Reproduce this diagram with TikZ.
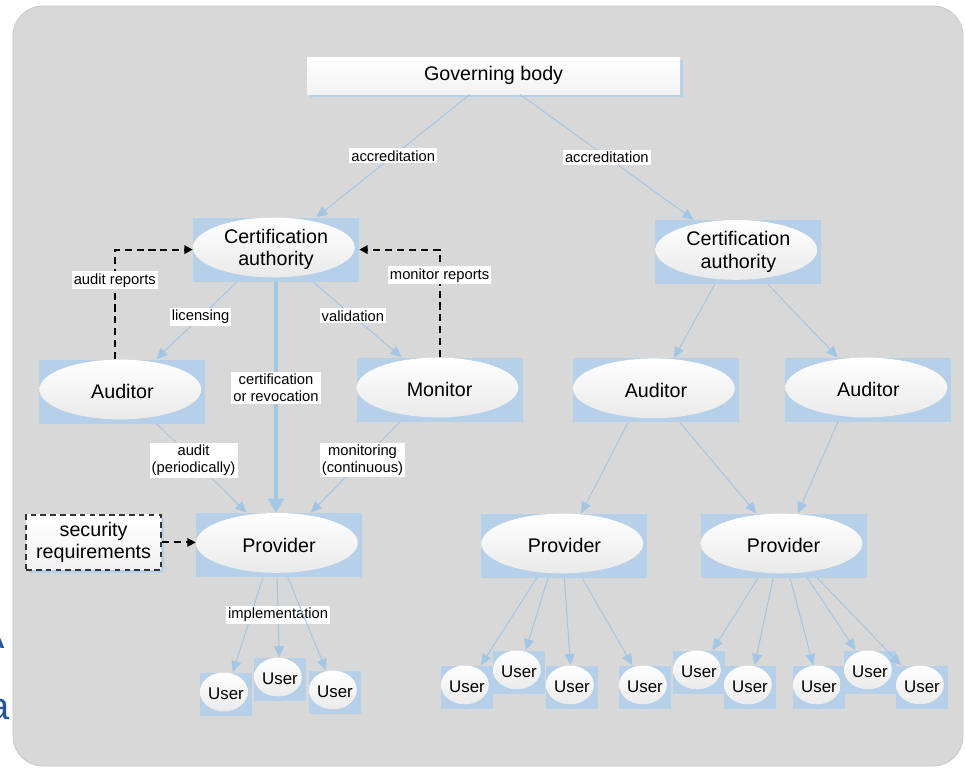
\documentclass[tikz,border=0pt]{standalone}
\usepackage{fontspec}
\setmainfont{Liberation Sans}
\usetikzlibrary{arrows.meta,calc,shadows}
\definecolor{fond}{RGB}{216,216,216}
\definecolor{bleu}{RGB}{181,208,232}
\definecolor{trait}{RGB}{163,198,229}
\definecolor{lettre}{RGB}{35,85,160}
\begin{document}
\begin{tikzpicture}
        \tikzstyle{bulle}=[rectangle,fill=bleu,minimum width=4.15cm,minimum height=1.6cm,inner sep=0pt,align=center,
          font=\fontsize{14}{16}\selectfont,
          path picture={\shade[top color=white,bottom color=black!9]
            let \p1=($(path picture bounding box.north east)-(path picture bounding box.south west)$) in
            ([shift={(-1.5pt,1.5pt)}]path picture bounding box.center) ellipse ({0.5*\x1-1.5pt} and {0.5*\y1-1.5pt});}]
        \tikzstyle{usager}=[bulle,minimum width=1.3cm,minimum height=1.075cm,font=\fontsize{12}{14}\selectfont]
        \tikzstyle{boite}=[rectangle,top color=white,bottom color=black!5,inner sep=0pt,align=center,
          font=\fontsize{14}{16}\selectfont,drop shadow={shadow xshift=2pt,shadow yshift=-2pt,fill=bleu,opacity=1}]
        \tikzstyle{fleche}=[draw=trait,line width=0.7pt,-{Triangle[length=8pt,width=7pt]}]
        \tikzstyle{grosse}=[fleche,line width=2.5pt,-{Triangle[length=10pt,width=11pt]}]
        \tikzstyle{pointille}=[draw=black,line width=1.5pt,dash pattern=on 5pt off 3.5pt,-{Triangle[length=6pt,width=6pt]}]
        \tikzstyle{etiq}=[fill=white,inner sep=1.5pt,align=center,font=\fontsize{10.5}{12}\selectfont]
        \path[use as bounding box,fill=white] (0,0) rectangle (24.125,-19.3);
        \draw[fill=fond,draw=black!22,line width=0.6pt,rounded corners=0.75cm] (0.325,-0.15) rectangle (24.075,-19.15);
        % bouts de texte coupes a gauche
        \node[anchor=base east,inner sep=0pt,text=lettre,font=\fontsize{27}{30}\selectfont] (la) at (0.125,-16.2) {A};
        \node[anchor=base east,inner sep=0pt,text=lettre,font=\fontsize{27}{30}\selectfont] (lb) at (0.25,-17.975) {a};
        % noeuds
        \node[boite,minimum width=9.325cm,minimum height=0.925cm] (gb) at (12.34,-1.89) {Governing body};
        \node[bulle] (ca1) at (6.9,-6.24) {Certification\\authority};
        \node[bulle] (ca2) at (18.46,-6.3) {Certification\\authority};
        \node[bulle] (au1) at (3.06,-9.79) {Auditor};
        \node[bulle] (mo) at (10.99,-9.74) {Monitor};
        \node[bulle] (au2) at (16.4,-9.76) {Auditor};
        \node[bulle] (au3) at (21.71,-9.74) {Auditor};
        \node[bulle] (pr1) at (6.975,-13.625) {Provider};
        \node[bulle] (pr2) at (14.11,-13.64) {Provider};
        \node[bulle] (pr3) at (19.59,-13.64) {Provider};
        \node[boite,draw=black!80,line width=1.2pt,dash pattern=on 4pt off 3pt,minimum width=3.375cm,minimum height=1.375cm] (sec) at (2.34,-13.56) {security\\requirements};
        \node[usager] (u1) at (5.65,-17.35) {User};
        \node[usager] (u2) at (7.0,-16.98) {User};
        \node[usager] (u3) at (8.375,-17.3) {User};
        \node[usager] (u4) at (11.675,-17.175) {User};
        \node[usager] (u5) at (12.975,-16.8) {User};
        \node[usager] (u6) at (14.3,-17.175) {User};
        \node[usager] (u7) at (16.125,-17.175) {User};
        \node[usager] (u8) at (17.475,-16.8) {User};
        \node[usager] (u9) at (18.75,-17.175) {User};
        \node[usager] (u10) at (20.475,-17.175) {User};
        \node[usager] (u11) at (21.75,-16.8) {User};
        \node[usager] (u12) at (23.05,-17.175) {User};
        % liens
        \draw[fleche] ([xshift=-0.59cm]gb.south) -- node[etiq]{accreditation} (ca1);
        \draw[fleche] ([xshift=0.66cm]gb.south) -- node[etiq]{accreditation} (ca2);
        \draw[fleche] ([xshift=-0.975cm]ca1.south) -- node[etiq,pos=0.45]{licensing} (au1);
        \draw[fleche] ([xshift=0.925cm]ca1.south) -- node[etiq,pos=0.45]{validation} (mo);
        \draw[grosse] (ca1.south) -- node[etiq,pos=0.46]{certification\\or revocation} (ca1.south |- pr1.north);
        \draw[fleche] ([xshift=0.86cm]au1.south) -- node[etiq,pos=0.41]{audit\\(periodically)} (pr1);
        \draw[fleche] ([xshift=-0.99cm]mo.south) -- node[etiq,pos=0.42]{monitoring\\(continuous)} (pr1);
        \draw[pointille] ([xshift=-0.19cm]au1.north) |- node[etiq,pos=0.36]{audit reports} (ca1.west);
        \draw[pointille] (mo.north) |- node[etiq,pos=0.38]{monitor reports} (ca1.east);
        \draw[pointille] (sec.east) -- (sec.east -| pr1.west);
        \draw[fleche] ([xshift=-0.4cm]pr1.south) -- (u1);
        \draw[fleche] ([xshift=-0.05cm]pr1.south) -- node[etiq,pos=0.47]{implementation} (u2);
        \draw[fleche] ([xshift=0.22cm]pr1.south) -- (u3);
        \draw[fleche] ([xshift=-0.59cm]ca2.south) -- (au2);
        \draw[fleche] ([xshift=0.74cm]ca2.south) -- (au3);
        \draw[fleche] ([xshift=-0.7cm]au2.south) -- (pr2);
        \draw[fleche] ([xshift=0.6cm]au2.south) -- (pr3);
        \draw[fleche] ([xshift=-0.76cm]au3.south) -- (pr3);
        \draw[fleche] ([xshift=-0.69cm]pr2.south) -- (u4);
        \draw[fleche] ([xshift=-0.41cm]pr2.south) -- (u5);
        \draw[fleche] (pr2.south) -- (u6);
        \draw[fleche] ([xshift=0.44cm]pr2.south) -- (u7);
        \draw[fleche] ([xshift=-0.64cm]pr3.south) -- (u8);
        \draw[fleche] ([xshift=-0.26cm]pr3.south) -- (u9);
        \draw[fleche] ([xshift=0.16cm]pr3.south) -- (u10);
        \draw[fleche] ([xshift=0.59cm]pr3.south) -- (u11);
        \draw[fleche] ([xshift=0.84cm]pr3.south) -- (u12);
    \end{tikzpicture}
\end{document}
